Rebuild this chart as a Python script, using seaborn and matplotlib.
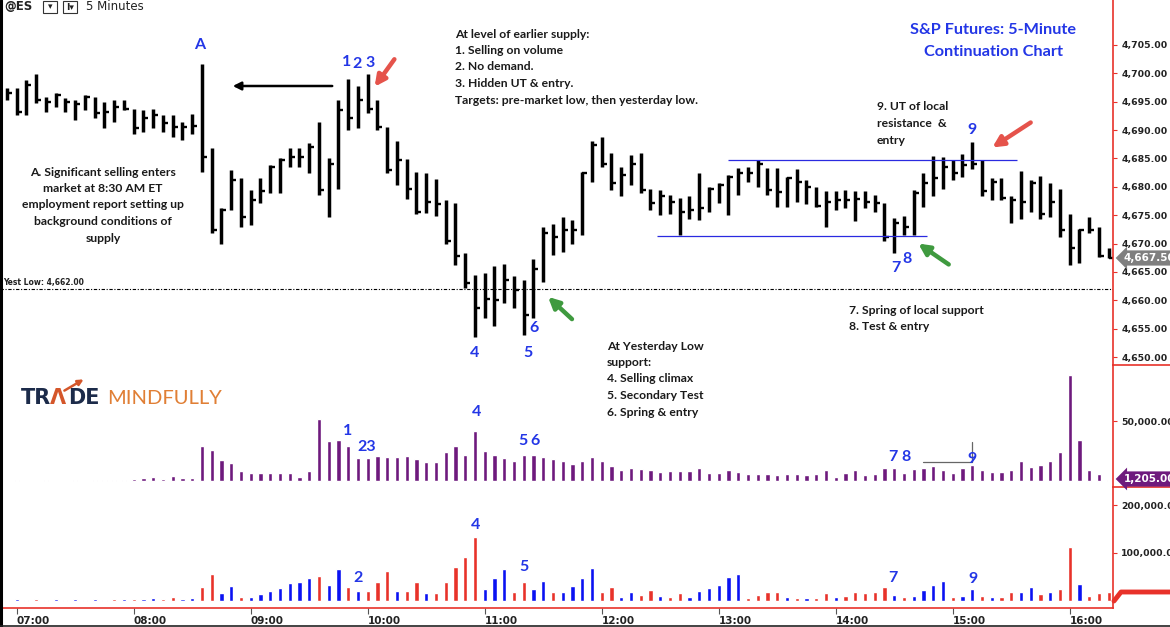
import numpy as np
import pandas as pd
import matplotlib
matplotlib.use("Agg")
import matplotlib.pyplot as plt
import seaborn as sns
from matplotlib.lines import Line2D
from matplotlib.patches import FancyArrowPatch, Rectangle

# ---------------- data ----------------
highs = [4697.4,4697.4,4698.8,4699.9,4695.9,4696.5,4695.6,4695.3,4696.2,4695.9,
         4695.0,4695.3,4695.3,4693.8,4693.5,4693.8,4692.7,4692.7,4691.5,4692.9,
         4701.6,4686.8,4676.2,4683.0,4681.5,4679.4,4681.5,4683.8,4685.0,4686.8,
         4686.8,4687.7,4691.5,4685.0,4695.3,4699.0,4697.7,4699.9,4695.3,4690.6,
         4688.1,4684.9,4682.7,4682.4,4681.3,4677.7,4677.1,4668.4,4664.5,4664.9,
         4666.0,4666.4,4664.2,4663.5,4667.2,4672.9,4673.4,4674.7,4674.2,4682.7,
         4688.0,4688.7,4685.9,4683.5,4685.6,4685.9,4679.7,4679.4,4678.6,4678.0,
         4678.3,4682.4,4680.0,4680.6,4682.1,4683.3,4683.5,4684.7,4683.3,4683.3,
         4681.8,4683.1,4681.2,4679.9,4679.2,4679.2,4679.4,4679.2,4679.3,4678.6,
         4677.2,4674.5,4674.9,4679.4,4682.4,4685.4,4685.2,4684.8,4685.8,4687.9,
         4684.7,4681.5,4681.5,4678.3,4682.8,4681.2,4681.9,4680.6,4679.7,4675.3,
         4672.5,4674.7,4672.9,4669.2]
lows = [4695.3,4692.7,4692.7,4694.7,4693.2,4694.1,4693.2,4691.8,4693.5,4692.1,
        4690.3,4691.5,4693.5,4689.4,4689.7,4690.3,4689.7,4688.8,4688.2,4689.4,
        4682.7,4671.8,4670.0,4675.9,4673.0,4673.3,4677.1,4678.9,4678.9,4683.5,
        4683.5,4682.4,4678.6,4674.7,4679.7,4690.0,4690.3,4693.0,4690.0,4682.4,
        4680.3,4677.8,4675.3,4675.4,4674.8,4670.0,4666.2,4662.1,4653.6,4656.8,
        4655.4,4659.5,4658.6,4653.9,4656.8,4663.3,4668.0,4668.6,4670.0,4671.5,
        4680.9,4683.5,4679.4,4678.4,4680.3,4679.0,4676.0,4675.0,4675.3,4671.5,
        4674.4,4674.2,4675.6,4677.1,4675.0,4678.6,4680.9,4680.0,4678.6,4676.5,
        4676.5,4677.4,4677.0,4676.4,4673.0,4676.0,4676.2,4673.9,4676.2,4675.6,
        4670.5,4668.3,4671.5,4671.5,4676.5,4678.3,4679.7,4681.2,4681.8,4683.1,
        4678.4,4677.7,4677.6,4673.6,4674.4,4675.6,4674.4,4674.7,4671.1,4666.2,
        4666.5,4671.8,4667.7,4667.4]
closes = [4696.5,4693.2,4698.0,4695.3,4695.0,4696.2,4695.0,4694.6,4695.9,4693.0,
          4693.2,4694.1,4693.8,4690.3,4692.1,4692.7,4691.2,4690.6,4690.6,4690.7,
          4685.3,4672.4,4675.9,4681.2,4674.7,4677.7,4679.2,4683.5,4684.7,4685.3,
          4685.3,4687.1,4679.4,4684.1,4693.5,4692.1,4695.3,4693.8,4690.6,4683.0,
          4684.7,4679.6,4675.6,4677.4,4677.0,4670.4,4667.8,4663.0,4658.6,4660.2,
          4660.1,4663.6,4661.8,4657.4,4665.6,4671.9,4671.2,4672.4,4672.4,4682.4,
          4687.4,4684.1,4680.6,4682.1,4684.1,4679.4,4677.1,4678.4,4677.4,4675.6,
          4675.9,4676.2,4679.7,4680.3,4681.7,4682.4,4682.4,4684.1,4679.4,4679.1,
          4681.5,4680.9,4680.0,4676.6,4677.4,4677.7,4677.7,4677.8,4677.4,4677.2,
          4671.1,4673.7,4673.0,4679.0,4680.6,4681.5,4683.5,4682.4,4683.8,4684.1,
          4679.2,4680.9,4678.0,4677.6,4677.4,4680.6,4675.3,4677.4,4672.4,4669.2,
          4672.4,4672.4,4667.8,4667.5]
volume = [800,900,800,800,900,800,800,900,800,900,
          1400,1400,1400,2200,3000,4100,2200,4900,3000,3000,
          29200,26400,17900,15400,8300,6900,7400,7200,7400,7400,
          4100,8300,51700,33300,34400,29700,19300,19300,20900,20100,
          20100,20900,18700,16000,16500,24200,29700,22300,42100,25600,
          22000,19300,16800,22000,22300,20100,18400,16800,14600,17300,
          20100,17300,12400,9900,11300,10200,9100,7700,8300,8300,
          8300,11300,7400,6900,9900,7700,5800,6300,6300,5500,
          6300,5800,5000,5800,9100,4100,6900,9100,5000,5800,
          11000,11300,6900,10500,11300,12400,9600,6900,11000,14000,
          9600,7700,7700,9900,17300,11800,14000,17300,24200,88300,
          34400,9900,5800,1205]
updown_volume = [2100,2200,2100,2300,2100,2200,2100,2300,2100,2200,
                 2100,2300,2200,3800,2400,5900,3800,6600,3100,5200,
                 29000,55600,16400,30400,8000,6600,13600,20600,26900,36000,
                 39500,46500,51400,32500,66800,29000,19200,19900,39500,62600,
                 20600,20600,39500,16400,16400,39500,69600,90500,133900,24800,
                 46500,66800,17100,39500,23400,41600,18500,17100,30400,46500,
                 67500,17100,29000,8000,17800,10800,22000,8700,6600,16400,
                 8000,19900,25500,32500,50000,55600,5900,11500,17100,17100,
                 6600,4500,4500,5900,15000,8000,9400,17100,15000,17100,
                 29000,11500,6600,10100,22000,32500,41600,6600,10100,24800,
                 9400,8000,6600,17100,17100,27600,13600,17100,23400,111500,
                 33900,9400,15000,17100]
direction = ["down","up","up","down","up","up","down","up","down","up",
             "down","down","up","down","up","up","down","down","up","up",
             "down","down","up","up","down","up","up","up","up","up",
             "up","up","down","up","up","down","up","down","down","down",
             "up","down","down","up","down","down","down","down","down","up",
             "up","up","down","down","up","up","down","up","up","up",
             "up","down","down","up","up","down","down","up","down","down",
             "up","up","up","up","up","up","down","down","down","down",
             "up","down","up","down","down","up","down","down","down","down",
             "down","up","down","up","up","up","up","down","up","up",
             "down","up","down","down","up","up","down","up","down","down",
             "up","down","down","down"]
session_start = "2022-01-07 06:55"
level_prices = [4684.75, 4671.25]
level_start = [74.0, 66.7]
level_end = [103.6, 94.4]
yest_low = 4662.00
price_ticks = [4650, 4655, 4660, 4665, 4670, 4675, 4680, 4685, 4690, 4695, 4700, 4705]

n = len(closes)
idx = np.arange(n)
times = pd.date_range(session_start, periods=n, freq="5min")

# ---------------- figure ----------------
sns.set_style("white")
plt.rcParams['font.family'] = ['DejaVu Sans']

W, H = 1170, 627
fig = plt.figure(figsize=(11.7, 6.27), dpi=100)
def fx(x): return x / W
def fy(y): return 1 - y / H

PR = 1113
ax_p = fig.add_axes([0, fy(365), fx(PR), 365 / H])
ax_v = fig.add_axes([0, fy(487), fx(PR), 122 / H], sharex=ax_p)
ax_d = fig.add_axes([0, fy(608), fx(PR), 121 / H], sharex=ax_p)
for a in (ax_p, ax_v, ax_d):
    a.patch.set_alpha(0)

RED = "#e8322a"
BLUE_TXT = "#2336e6"
PURPLE = "#6e1a7d"

# price HLC bars
ax_p.vlines(idx, lows, highs, color="black", lw=2.5, capstyle="butt")
ax_p.hlines(closes, idx, idx + 0.5, color="black", lw=1.7)
ax_p.set_ylim(4648.6, 4712.93)

ax_p.hlines(level_prices, level_start, level_end, color="#2a2ae0", lw=0.9)
ax_p.axhline(yest_low, color="black", lw=0.8, ls=(0, (3, 1.5, 1, 1.5)))

# volume
sns.barplot(x=idx, y=volume, native_scale=True, width=0.42, color=PURPLE,
            saturation=1, errorbar=None, ax=ax_v)
ax_v.set_ylim(-4550, 96300)

df = pd.DataFrame({"i": idx, "v": updown_volume, "d": direction})
sns.barplot(data=df, x="i", y="v", hue="d", palette={"down": RED, "up": "#0a12f2"},
            dodge=False, native_scale=True, width=0.42, saturation=1,
            errorbar=None, legend=False, ax=ax_d)
ax_d.set_ylim(-15700, 237950)

# gray marker line in volume pane
ax_v.plot([93.95, 99.0, 99.0], [16100, 16100, 32600], color="#666666", lw=0.9)

hours = [i for i, t in enumerate(times) if t.minute == 0]
ax_d.set_xticks(hours)
ax_d.set_xticklabels([times[i].strftime("%H:%M") for i in hours], ha="left")
ax_d.set_xlim(-0.713, 113.44)

for a in (ax_p, ax_v, ax_d):
    a.set_xlabel("")
    a.set_ylabel("")
    for s in ("top", "left", "bottom"):
        a.spines[s].set_visible(False)
    a.spines["right"].set_color(RED)
    a.spines["right"].set_linewidth(1.2)
    a.yaxis.tick_right()
    a.tick_params(axis="y", direction="out", length=3, color=RED, labelsize=6.7,
                  labelcolor="#222222", pad=3)
    a.tick_params(axis="x", bottom=False, labelbottom=False)
    a.grid(False)

ax_d.spines["bottom"].set_visible(True)
ax_d.spines["bottom"].set_color(RED)
ax_d.spines["bottom"].set_linewidth(1.2)
ax_d.tick_params(axis="x", bottom=True, labelbottom=True, direction="out", length=4,
                 color="#555555", labelsize=7.5, labelcolor="#222222", pad=2)

ax_p.set_yticks(price_ticks)
ax_p.set_yticklabels([f"{v:,.2f}" for v in price_ticks])
ax_v.set_yticks([50000])
ax_v.set_yticklabels(["50,000.00"])
ax_d.set_yticks([100000, 200000])
ax_d.set_yticklabels(["100,000.00", "200,000.00"])
for a in (ax_p, ax_v, ax_d):
    for lab in a.get_yticklabels() + a.get_xticklabels():
        lab.set_fontweight("bold")

# ---------------- decorations ----------------
def T(x, y, s, **kw):
    kw.setdefault("va", "center")
    return fig.text(fx(x), fy(y), s, **kw)

def block(x, y0, dy, lines, ha="left", **kw):
    for k, s in enumerate(lines):
        T(x, y0 + k * dy, s, ha=ha, **kw)

def arrow(p0, p1, color, lw, ms):
    fig.add_artist(FancyArrowPatch((fx(p0[0]), fy(p0[1])), (fx(p1[0]), fy(p1[1])),
                                   transform=fig.transFigure, arrowstyle="-|>",
                                   mutation_scale=ms, lw=lw, color=color))

def fline(xs, ys, color, lw):
    fig.add_artist(Line2D([fx(x) for x in xs], [fy(y) for y in ys],
                          transform=fig.transFigure, color=color, lw=lw))

note = dict(family="Lato", weight="bold", size=8.7, color="#1a1a1a")
blue = dict(family="Lato", weight="bold", size=11.5, color=BLUE_TXT)

# header
T(4, 7, "@ES", ha="left", size=8.5, weight="bold", color="#222222")
for bx, s in ((43, "▾"), (63, "I▾")):
    fig.add_artist(Rectangle((fx(bx), fy(13)), 14 / W, 12 / H, transform=fig.transFigure,
                             fill=False, ec="#333333", lw=0.8))
    T(bx + 7, 7, s, ha="center", size=6.5, weight="bold", color="#222222")
T(86, 7, "5 Minutes", ha="left", size=8.5, color="#222222")

# title
T(993, 30, "S&P Futures: 5-Minute", ha="center", family="Lato", weight="bold",
  size=11.7, color=BLUE_TXT)
T(993, 52, "Continuation Chart", ha="center", family="Lato", weight="bold",
  size=11.7, color=BLUE_TXT)

# notes
block(103, 172, 16.5, ["A. Significant selling enters", "market at 8:30 AM ET",
                       "employment report setting up", "background conditions of",
                       "supply"], ha="center", **note)
block(455, 34, 16.5, ["At level of earlier supply:", "1. Selling on volume",
                      "2. No demand.", "3. Hidden UT & entry.",
                      "Targets: pre-market low, then yesterday low."], **note)
block(877, 107, 16.5, ["9. UT of local", "resistance  &", "entry"], **note)
block(849, 310, 16.5, ["7. Spring of local support", "8. Test & entry"], **note)
block(607, 346, 16.5, ["At Yesterday Low", "support:", "4. Selling climax",
                       "5. Secondary Test", "6. Spring & entry"], **note)
T(3, 283, "Yest Low: 4,662.00", ha="left", size=5.5, weight="bold", color="#222222")

# blue labels (price pane)
for x, y, s in ((200, 45, "A"), (347, 62, "1"), (357, 64, "2"), (370, 63, "3"),
                (972, 130, "9"), (896, 268, "7"), (907, 259, "8"),
                (475, 353, "4"), (528, 353, "5"), (534, 328, "6")):
    T(x, y, s, ha="center", **blue)
# volume pane labels
for x, y, s in ((348, 431, "1"), (367, 447, "23"), (477, 412, "4"), (523, 441, "5"),
                (535, 441, "6"), (893, 457, "7"), (906, 457, "8"), (972, 459, "9"),
                (358, 578, "2"), (476, 525, "4"), (524, 567, "5"), (893, 578, "7"),
                (973, 579, "9")):
    T(x, y, s, ha="center", **blue)

# arrows
arrow((335, 86), (230, 86), "black", 1.8, 12)
arrow((396, 57), (373, 89), "#e5534b", 3.2, 16)
arrow((1033, 121), (990, 149), "#e5534b", 3.2, 16)
arrow((574, 321), (546, 295), "#3f9a3f", 3.2, 16)
arrow((951, 266), (916, 242), "#3f9a3f", 3.2, 16)

# logo
NAVY = "#1c2b4a"
T(21, 398, "TR", ha="left", family="DejaVu Sans", weight="bold", size=15, color=NAVY)
T(58, 398, "Λ", ha="center", family="DejaVu Sans", weight="bold", size=15, color="#d4562a")
T(68, 398, "DE", ha="left", family="DejaVu Sans", weight="bold", size=15, color=NAVY)
arrow((62, 392), (86, 378), "#d4562a", 1.8, 8)
T(107, 398, "MINDFULLY", ha="left", family="Lato", weight="normal", size=14.5,
  color="#e07f35")

# last value tags
T(1124, 258, "4,667.50", ha="left", color="white", weight="bold", size=7.5,
  bbox=dict(boxstyle="larrow,pad=0.25", fc="#7f7f7f", ec="none"))
T(1124, 479, "1,205.00", ha="left", color="white", weight="bold", size=7.5,
  bbox=dict(boxstyle="larrow,pad=0.25", fc=PURPLE, ec="none"))

# axis-region separators and marker
fline([PR, W], [365, 365], RED, 1.2)
fline([PR, W], [487, 487], RED, 1.2)
fline([1114, 1121, W], [601, 592, 592], RED, 3.5)
fline([1, 1], [0, H], "black", 2.2)
fline([0, W], [626, 626], "#222222", 1.2)

fig.savefig("out.png", dpi=100)
